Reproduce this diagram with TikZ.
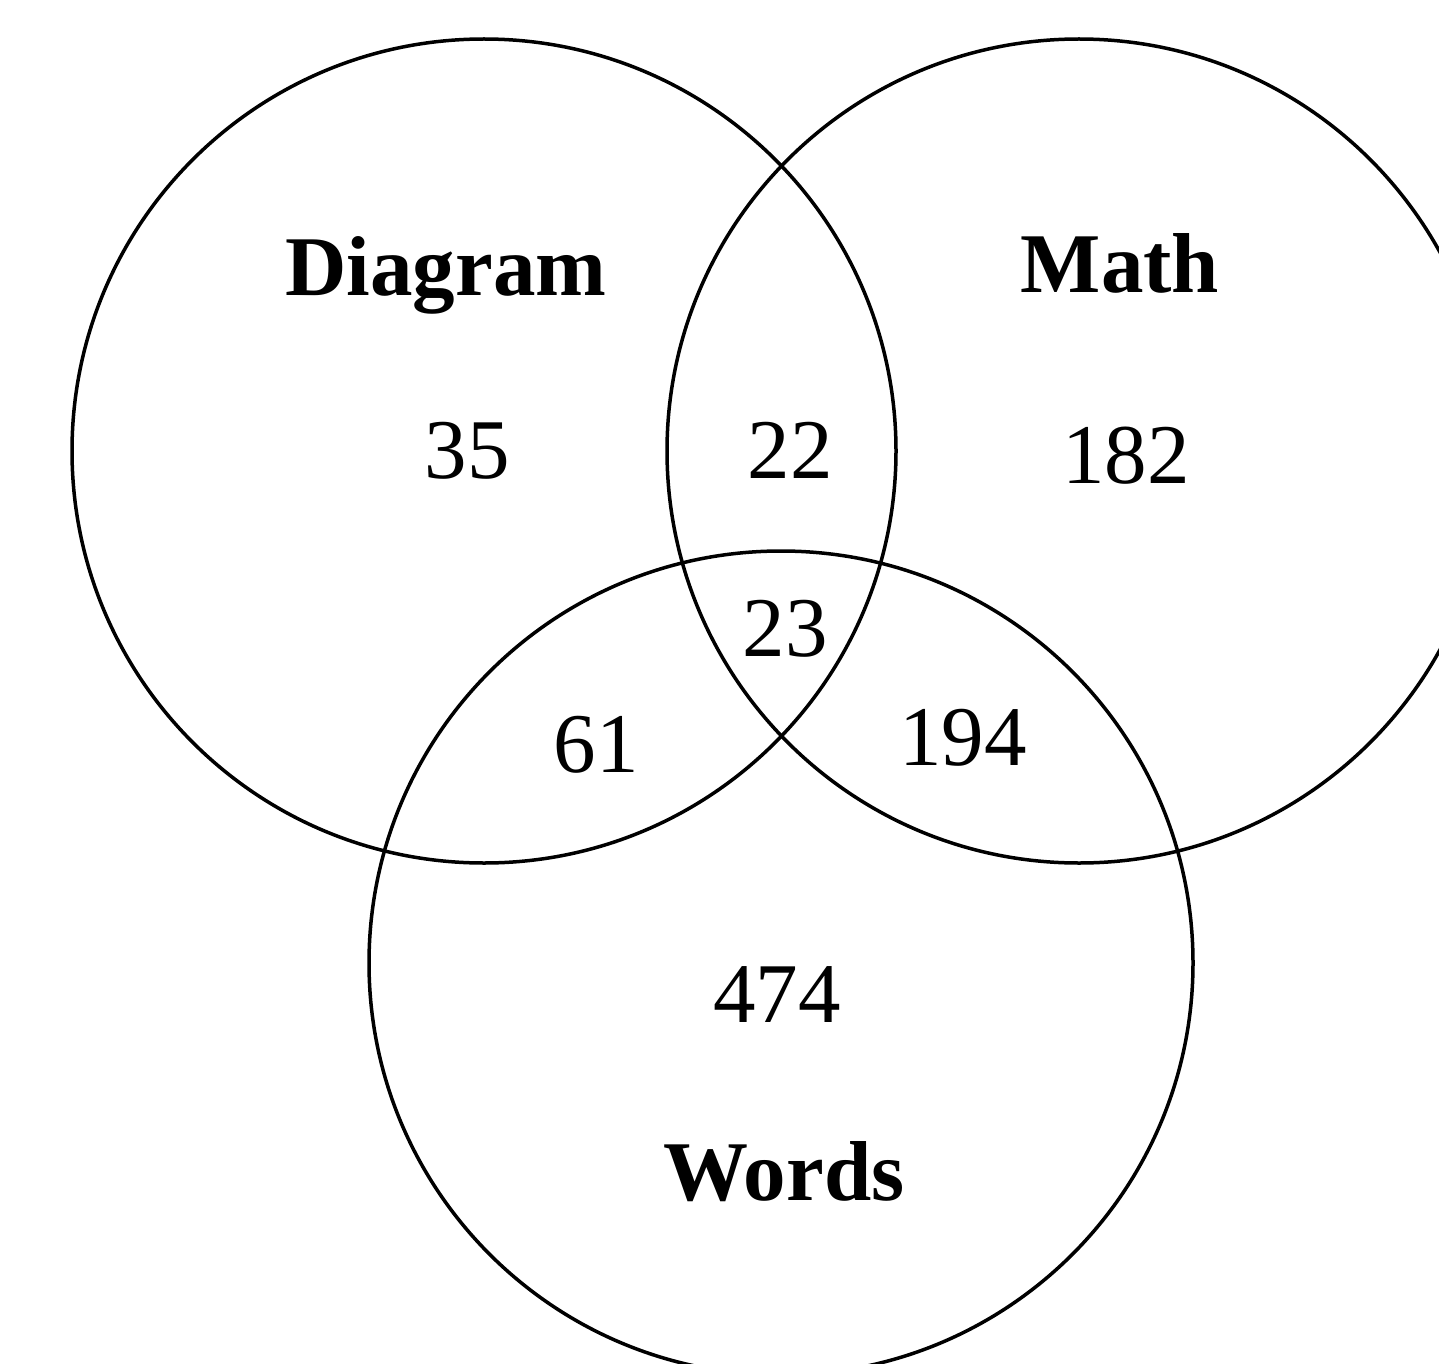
\documentclass[tikz,border=0pt]{standalone}
\usepackage{fontspec}
\setmainfont{Liberation Serif}
\begin{document}
\begin{tikzpicture}[x=1pt,y=-1pt,
  setcircle/.style={draw=black,line width=3.5pt,circle,minimum size=824pt,inner sep=0pt},
  lbl/.style={anchor=base,inner sep=0pt,font=\fontsize{85}{100}\selectfont},
  ttl/.style={lbl,font=\fontsize{85}{100}\selectfont\bfseries}]
\useasboundingbox (0,0) rectangle (1439,1364);
\clip (0,0) rectangle (1439,1364);
\node[setcircle] (diag) at (484,451) {};
\node[setcircle] (math) at (1079,451) {};
\node[setcircle] (words) at (781,963) {};
\node[ttl] (tdiag) at (446,295) {Diagram};
\node[ttl] (tmath) at (1120,292) {Math};
\node[ttl] (twords) at (784,1200) {Words};
\node[lbl] (n35) at (467,478) {35};
\node[lbl] (n22) at (790,478) {22};
\node[lbl] (n182) at (1126,483) {182};
\node[lbl] (n23) at (785,656) {23};
\node[lbl] (n61) at (596,772) {61};
\node[lbl] (n194) at (963,765) {194};
\node[lbl] (n474) at (777,1022) {474};
\end{tikzpicture}
\end{document}
